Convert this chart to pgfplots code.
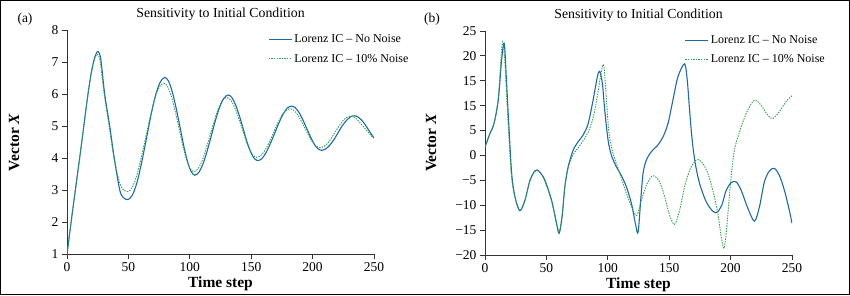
\documentclass[border=0pt]{standalone}
\usepackage{fontspec}
\setmainfont{Liberation Serif}
\usepackage{pgfplots}
\pgfplotsset{compat=1.18}
\definecolor{cblue}{RGB}{30,105,170}
\definecolor{cgreen}{RGB}{45,160,80}
\pgfplotsset{
  every axis title shift=0pt,
  panel/.style={
    scale only axis, width=307pt, height=224pt,
    axis x line*=bottom, axis y line*=left,
    axis line style={draw=black!80, line width=0.8pt},
    tick align=outside, major tick length=5pt,
    every tick/.style={draw=black!80, line width=0.8pt},
    xmin=0, xmax=250, xtick={0,50,...,250},
    /pgf/number format/assume math mode=true,
    ticklabel style={font=\fontsize{13.5}{15}\selectfont},
    xlabel={\textbf{Time step}}, ylabel={\textbf{Vector \textit{X}}},
    label style={font=\fontsize{15.5}{17}\selectfont},
    xlabel style={at={(axis description cs:0.5,-0.133)}, anchor=center},
    ylabel style={at={(axis description cs:-0.172,0.5)}, anchor=center},
    title={Sensitivity to Initial Condition},
    title style={at={(axis description cs:0.5,1.055)}, anchor=base, font=\fontsize{13.8}{15}\selectfont},
    legend style={draw=none, fill=none, font=\fontsize{12}{14}\selectfont,
      anchor=north west, inner sep=0pt, row sep=6pt, legend cell align=left},
    legend image code/.code={\draw[#1] (0pt,0pt) -- (23pt,0pt);},
    blueline/.style={color=cblue, line width=1.1pt, smooth, no marks},
    greenline/.style={color=cgreen, line width=0.9pt, dash pattern=on 1.4pt off 1.2pt, smooth, no marks},
  }
}
\begin{document}
\begin{tikzpicture}[x=1pt,y=1pt]
\useasboundingbox (0,0) rectangle (850,295);
\draw[line width=1pt] (0.5,0.5) rectangle (849.5,294.5);
\node[font=\fontsize{13.5}{15}\selectfont] at (25,275.5) {(a)};
\node[font=\fontsize{13.5}{15}\selectfont] at (432,275.5) {(b)};

\begin{axis}[panel, at={(67pt,40.7pt)}, anchor=south west,
  ymin=1, ymax=8, ytick={1,2,...,8},
  legend style={at={(axis description cs:0.655,0.99)}}]
\addplot[blueline] coordinates {
(0,1) (4,2.2) (8,3.35) (12,4.5) (16,5.7) (19,6.5) (21.5,7.0) (23.5,7.25) (25.3,7.34) (27.5,7.1) (30.7,6.0) (34.8,5.0) (38.5,4.0) (43,3.0) (46,2.77) (49.7,2.71) (53.4,2.86) (57.2,3.27) (60.9,3.89) (64.7,4.62) (68.4,5.35) (72.1,5.97) (75.9,6.38) (79.6,6.53) (82.7,6.41) (85.7,6.08) (88.8,5.58) (91.9,5.0) (94.9,4.42) (98,3.92) (101,3.59) (104.1,3.47) (107.5,3.57) (110.9,3.84) (114.3,4.25) (117.7,4.73) (121,5.2) (124.4,5.61) (127.8,5.88) (131.2,5.98) (134.2,5.9) (137.2,5.68) (140.2,5.35) (143.2,4.96) (146.2,4.56) (149.2,4.23) (152.2,4.01) (155.2,3.93) (158.7,3.99) (162.1,4.18) (165.6,4.46) (169.1,4.78) (172.5,5.1) (176,5.38) (179.4,5.57) (182.9,5.63) (185.9,5.58) (189,5.43) (192.1,5.2) (195.1,4.94) (198.2,4.68) (201.2,4.45) (204.3,4.3) (207.3,4.25) (210.6,4.29) (214,4.41) (217.3,4.58) (220.6,4.79) (223.9,5.0) (227.3,5.17) (230.6,5.29) (233.9,5.33) (237,5.29) (240,5.19) (243,5.04) (246,4.86) (250,4.63)
};
\addlegendentry{Lorenz IC – No Noise}
\addplot[greenline] coordinates {
(0,1) (4,2.2) (8,3.35) (12,4.5) (16,5.7) (19,6.5) (21.3,6.95) (23.2,7.18) (24.8,7.25) (27,7.03) (30.3,6.0) (34.3,5.0) (38.3,4.0) (42,3.35) (45,3.05) (49.4,2.96) (53.1,3.09) (56.75,3.45) (60.4,4.01) (64.1,4.66) (67.8,5.3) (71.45,5.86) (75.1,6.22) (78.8,6.35) (81.9,6.24) (84.9,5.95) (88,5.49) (91.05,4.97) (94.1,4.44) (97.2,3.98) (100.2,3.69) (103.3,3.58) (106.6,3.67) (110,3.92) (113.3,4.3) (116.65,4.74) (120,5.18) (123.3,5.56) (126.7,5.81) (130,5.9) (133.1,5.83) (136.1,5.63) (139.2,5.32) (142.25,4.97) (145.3,4.61) (148.4,4.3) (151.4,4.1) (154.5,4.03) (157.9,4.09) (161.25,4.25) (164.6,4.5) (168,4.79) (171.4,5.08) (174.75,5.33) (178.1,5.49) (181.5,5.55) (184.6,5.5) (187.6,5.37) (190.7,5.17) (193.75,4.94) (196.8,4.71) (199.9,4.51) (202.9,4.38) (206,4.33) (209.1,4.37) (212.25,4.47) (215.4,4.64) (218.5,4.83) (221.6,5.01) (224.75,5.18) (227.9,5.28) (231,5.32) (234,5.28) (237,5.18) (240,5.05) (243,4.92) (246,4.78) (249,4.66)
};
\addlegendentry{Lorenz IC – 10\% Noise}
\end{axis}

\begin{axis}[panel, at={(485pt,40pt)}, anchor=south west,
  ymin=-20, ymax=25, ytick={-20,-15,...,25},
  yticklabels={−20,−15,−10,−5,0,5,15,15,20,25},
  ylabel style={at={(axis description cs:-0.175,0.5)}},
  legend style={at={(axis description cs:0.65,0.99)}}]
\addplot[blueline] coordinates {
(0,1.7) (4,4.4) (7.3,6.4) (10.8,11.1) (13.5,19.1) (15.7,22.5) (17.6,14.4) (19.5,5.7) (21.7,-3.6) (24.4,-8.3) (28.4,-11.1) (32.5,-9) (36.6,-5) (40.6,-3.1) (42.5,-2.9) (45.5,-3.6) (48.8,-5) (54.2,-9) (58.2,-13.6) (60.4,-15.65) (62.8,-12.3) (65,-6.3) (67.7,-2.3) (71.8,1.07) (75.8,2.74) (79.9,4.1) (84,6.4) (88,11.1) (91.5,15.8) (93.4,16.9) (95.6,14.4) (97.5,9.1) (100.2,3.1) (102.9,0.06) (107,-2.3) (111,-4) (115.1,-6.3) (119.2,-9.6) (122.4,-13.6) (124.6,-15.5) (126.8,-9) (128.7,-3.6) (131.4,-0.9) (135.4,0.74) (140.8,2.1) (144.9,3.7) (149,6.4) (153,11.1) (157.1,15.8) (162.5,18.4) (164.7,15.1) (166.6,9.1) (168.7,3.1) (171.2,-1.6) (174.7,-5.6) (180.1,-9.3) (185.5,-11.2) (189,-11.4) (192.8,-10) (196.4,-7) (200.4,-5.5) (204.5,-5.3) (208.6,-7) (214,-10.6) (219.4,-13.2) (223.5,-10.3) (227.5,-5.3) (231.6,-3.1) (235.6,-2.6) (239.7,-4) (243.8,-7) (247.8,-11) (250,-13.6)
};
\addlegendentry{Lorenz IC – No Noise}
\addplot[greenline] coordinates {
(0,1.7) (4,4.4) (7.3,6.4) (10.8,11.5) (13,19.5) (14.4,22.8) (16,19.5) (17.6,12) (19.5,3.5) (21.7,-4.5) (24.4,-8.5) (28.4,-11.1) (32.5,-9) (36.6,-5.1) (40.6,-3.2) (42.5,-3.0) (45.5,-3.7) (48.8,-5.2) (54.2,-9.2) (58.2,-13.4) (60.4,-15.3) (62.8,-12) (65,-6.5) (67.7,-2.5) (71.8,0.2) (75.8,1.5) (79.9,3.0) (84,4.7) (88,7.5) (91.5,12) (94.5,16.5) (96.7,18.1) (98.9,11.1) (101,4.4) (104.3,0.4) (109.7,-3.6) (115.1,-7.6) (120.5,-11) (123.8,-12) (127.3,-9) (131.4,-6) (135.4,-4.3) (138.1,-4.15) (142.2,-5.3) (146.3,-8.3) (150.3,-12) (154.4,-13.85) (158.5,-11) (162.5,-6.3) (166.6,-3) (170.6,-1.3) (173.3,-0.8) (177.4,-1.6) (181.5,-3.6) (185.5,-7) (189.6,-11.6) (192.3,-16.3) (194.5,-18.7) (196.4,-15.6) (198.3,-10.3) (200.4,-4.3) (203.1,1.07) (207.2,4.7) (212.6,8.4) (218,10.8) (220.7,11.1) (224.8,10.1) (230.2,8.1) (234.3,7.4) (239.7,8.8) (245.1,10.8) (250,12)
};
\addlegendentry{Lorenz IC – 10\% Noise}
\end{axis}
\end{tikzpicture}
\end{document}
